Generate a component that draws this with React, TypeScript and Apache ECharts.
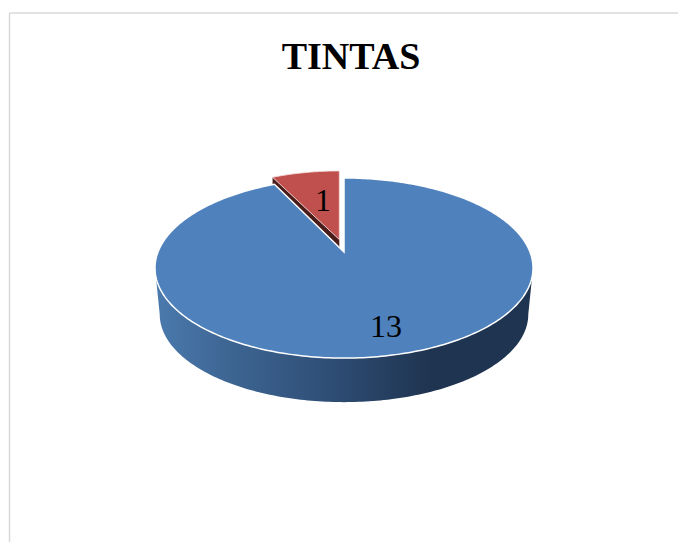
import React, { useEffect, useRef } from "react";
import * as echarts from "echarts";

const chartTitle = "TINTAS";
const sliceValues = [13, 1];
const sliceColors = ["#4f81bd", "#bf504d"];
const sliceEdgeColors = ["#1f3552", "#4a1d1b"];
const labelPositions = [
  [386, 326],
  [323, 200],
];

// Perspective model of the tilted disc: (u, v) on the unit circle goes to the screen.
const CX = 344;
const CY = 252;
const SCALE_X = 186;
const SCALE_Y = 87.2;
const TILT = 0.178;
const THICKNESS_SCALE = 0.975;
const RIM_MID_Y = 268;
const FLOOR_MID_Y = 314.3;

// Pulled-out slice: the tip travels further than the rim and the arc narrows a little.
const EXPLODED_TIP = [339.3, 239.5];
const EXPLODED_RIM_LIFT = 7;
const EXPLODED_WIDTH = 0.96;

function project(theta: number) {
  const u = Math.sin(theta);
  const v = -Math.cos(theta);
  const w = 1 - TILT * v;
  return [CX + (SCALE_X * u) / w, CY + (SCALE_Y * v) / w];
}

function lower(p: number[]) {
  return [
    CX + (p[0] - CX) * THICKNESS_SCALE,
    FLOOR_MID_Y + (p[1] - RIM_MID_Y) * THICKNESS_SCALE,
  ];
}

function arcPoints(from: number, to: number) {
  const steps = Math.max(2, Math.ceil(Math.abs(to - from) * 60));
  const pts: number[][] = [];
  for (let i = 0; i <= steps; i++) pts.push(project(from + ((to - from) * i) / steps));
  return pts;
}

const total = sliceValues.reduce((a, b) => a + b, 0);

function renderSlice(params: any, api: any) {
  const index = params.dataIndex;
  const value = api.value(0) as number;
  const before = sliceValues.slice(0, index).reduce((a, b) => a + b, 0);
  const start = (before / total) * Math.PI * 2;
  const end = ((before + value) / total) * Math.PI * 2;
  const exploded = index === 1;
  const children: any[] = [];
  const apex = exploded ? EXPLODED_TIP : [CX, CY];
  const rim = exploded
    ? arcPoints(start, end).map((p) => [
        EXPLODED_TIP[0] + (p[0] - CX) * EXPLODED_WIDTH,
        p[1] - EXPLODED_RIM_LIFT,
      ])
    : arcPoints(start, end);

  if (exploded) {
    // Cut face of the pulled-out slice; the large slice is painted over most of it.
    const corner = rim[0];
    const faceDepth = 44;
    children.push({
      type: "polygon",
      z2: 1,
      shape: {
        points: [apex, corner, [corner[0], corner[1] + faceDepth], [apex[0], apex[1] + faceDepth]],
      },
      style: { fill: sliceEdgeColors[1] },
    });
  } else {
    // Visible outer wall of the disc, from the right extreme round to the left one.
    const right = Math.acos(-TILT);
    const left = Math.PI * 2 - right;
    const upper = arcPoints(right, left);
    const bottom = upper.map(lower).reverse();
    children.push({
      type: "polygon",
      z2: 2,
      shape: { points: upper.concat(bottom) },
      style: {
        fill: new echarts.graphic.LinearGradient(1, 0, 0, 0, [
          { offset: 0, color: "#1f3450" },
          { offset: 0.27, color: "#1f3450" },
          { offset: 0.55, color: "#2f4f77" },
          { offset: 0.8, color: "#3d6592" },
          { offset: 1, color: "#4b7aae" },
        ]),
      },
    });
  }

  children.push({
    type: "polygon",
    z2: exploded ? 4 : 3,
    shape: { points: [apex, ...rim] },
    style: {
      fill: sliceColors[index],
      stroke: exploded ? "#f3dcdb" : "#ffffff",
      lineWidth: exploded ? 0.8 : 1.5,
      lineJoin: "miter",
    },
  });

  children.push({
    type: "text",
    z2: 6,
    x: labelPositions[index][0],
    y: labelPositions[index][1],
    style: {
      text: String(value),
      fill: "#000000",
      font: '32px "Liberation Serif"',
      align: "center",
      verticalAlign: "middle",
    },
  });

  return { type: "group", children };
}

export default function App() {
  const ref = useRef<HTMLDivElement>(null);

  useEffect(() => {
    document.body.style.margin = "0";
    const chart = echarts.init(ref.current!, undefined, { renderer: "svg" });
    chart.setOption({
      animation: false,
      backgroundColor: "#ffffff",
      title: {
        text: chartTitle,
        left: 346,
        top: 32,
        textAlign: "center",
        textStyle: {
          fontFamily: '"Liberation Serif"',
          fontWeight: "bold",
          fontSize: 38,
          color: "#000000",
        },
      },
      graphic: [
        {
          type: "line",
          shape: { x1: 9.5, y1: 13, x2: 678, y2: 13 },
          style: { stroke: "#d9d9d9", lineWidth: 1.5 },
        },
        {
          type: "line",
          shape: { x1: 9.5, y1: 13, x2: 9.5, y2: 542 },
          style: { stroke: "#d9d9d9", lineWidth: 1.5 },
        },
      ],
      series: [
        {
          type: "custom",
          coordinateSystem: "none",
          renderItem: renderSlice,
          data: sliceValues.map((v) => [v]),
          silent: true,
        },
      ],
    });
    return () => chart.dispose();
  }, []);

  return <div ref={ref} style={{ width: 678, height: 542 }} />;
}
